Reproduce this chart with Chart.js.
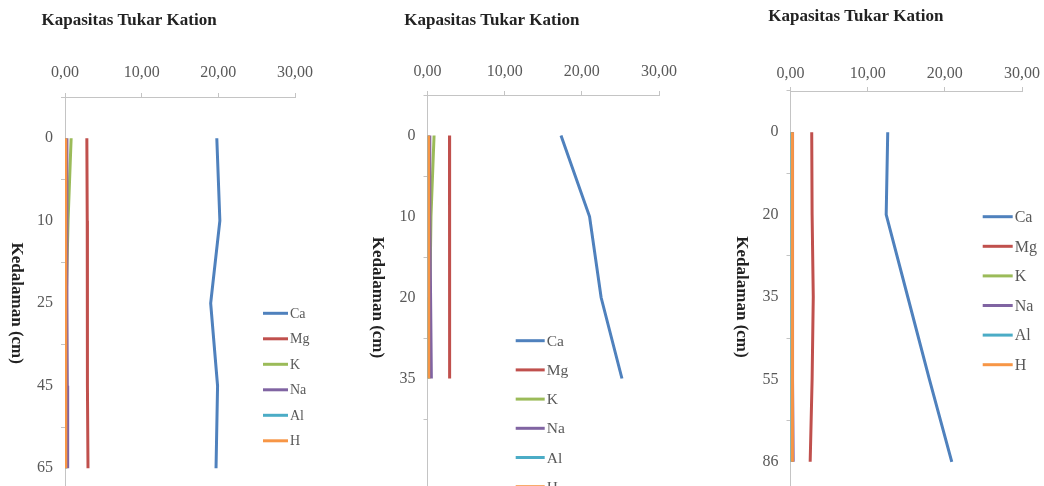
<!DOCTYPE html>
<html>
<head>
<meta charset="utf-8">
<title>Kapasitas Tukar Kation</title>
<script src="https://cdn.jsdelivr.net/npm/chart.js@4.4.1/dist/chart.umd.min.js"></script>
<style>
  html, body { margin: 0; padding: 0; background: #fff; width: 1044px; height: 486px; overflow: hidden; }
  canvas { position: absolute; top: 0; }
</style>
</head>
<body>
<canvas id="p1" width="350" height="560" style="left:0px"></canvas>
<canvas id="p2" width="350" height="560" style="left:350px"></canvas>
<canvas id="p3" width="344" height="560" style="left:700px"></canvas>
<script>
// ---- data ----
const chartTitle = 'Kapasitas Tukar Kation';
const yAxisTitle = 'Kedalaman (cm)';
const seriesNames = ['Ca', 'Mg', 'K', 'Na', 'Al', 'H'];
const xTicks = [0, 10, 20, 30];

// profile 1
const depth1 = ['0', '10', '25', '45', '65'];
const ca1 = [19.8, 20.2, 19.0, 19.9, 19.7];
const mg1 = [2.85, 2.9, 2.9, 2.95, 3.0];
const k1  = [0.8, 0.4, 0.15, 0.15, 0.15];
const na1 = [0.25, 0.25, 0.25, 0.3, 0.35];
const al1 = [0.05, 0.05, 0.05, 0.05, 0.05];
const h1  = [0.1, 0.1, 0.1, 0.1, 0.1];

// profile 2
const depth2 = ['0', '10', '20', '35', ''];
const ca2 = [17.3, 21.0, 22.5, 25.2, null];
const mg2 = [2.85, 2.85, 2.85, 2.9, null];
const k2  = [0.85, 0.45, 0.3, 0.2, null];
const na2 = [0.3, 0.3, 0.4, 0.5, null];
const al2 = [0.05, 0.05, 0.05, 0.05, null];
const h2  = [0.15, 0.15, 0.15, 0.15, null];

// profile 3
const depth3 = ['0', '20', '35', '55', '86'];
const ca3 = [12.6, 12.4, 15.2, 18.0, 20.9];
const mg3 = [2.75, 2.8, 2.95, 2.8, 2.55];
const k3  = [0.2, 0.2, 0.2, 0.2, 0.2];
const na3 = [0.25, 0.25, 0.25, 0.3, 0.35];
const al3 = [0.05, 0.05, 0.05, 0.05, 0.05];
const h3  = [0.25, 0.25, 0.25, 0.25, 0.25];

// ---- styling ----
const seriesColors = ['#4F81BD', '#C0504D', '#9BBB59', '#8064A2', '#4BACC6', '#F79646'];
const SERIF = '"Liberation Serif", "Times New Roman", serif';
const axisGrey = '#C4C4C4';
const labelGrey = '#595959';
const titleInk = '#222222';

const fmt = v => Number(v).toFixed(2).replace('.', ',');

// title, rotated axis title and legend drawn onto each panel
const decor = {
  id: 'decor',
  afterDraw(chart, args, o) {
    const ctx = chart.ctx;
    const a = chart.chartArea;
    ctx.save();
    ctx.fillStyle = titleInk;
    ctx.font = 'bold 17px ' + SERIF;
    ctx.textAlign = 'left';
    ctx.textBaseline = 'alphabetic';
    ctx.fillText(chartTitle, o.titleX, o.titleY);

    ctx.save();
    ctx.translate(o.yTitleX, (a.top + a.bottom) / 2);
    ctx.rotate(Math.PI / 2);
    ctx.textAlign = 'center';
    ctx.textBaseline = 'middle';
    ctx.fillText(yAxisTitle, 0, 0);
    ctx.restore();

    ctx.font = o.legFont + 'px ' + SERIF;
    ctx.textAlign = 'left';
    ctx.textBaseline = 'middle';
    chart.data.datasets.forEach((ds, i) => {
      const y = o.legY + i * o.legGap;
      ctx.strokeStyle = ds.borderColor;
      ctx.lineWidth = 3;
      ctx.beginPath();
      ctx.moveTo(o.legX, y);
      ctx.lineTo(o.legX + o.legLen, y);
      ctx.stroke();
      ctx.fillStyle = labelGrey;
      ctx.fillText(ds.label, o.legX + o.legLen + 2, y + 1);
    });
    ctx.restore();
  }
};

function makePanel(id, depths, values, geo) {
  const canvas = document.getElementById(id);
  const datasets = seriesNames.map((name, i) => ({
    label: name,
    data: values[i],
    borderColor: seriesColors[i],
    backgroundColor: seriesColors[i],
    borderWidth: 3,
    pointRadius: 0,
    tension: 0,
    order: seriesNames.length - 1 - i
  }));
  new Chart(canvas, {
    type: 'line',
    data: { labels: depths, datasets },
    options: {
      indexAxis: 'y',
      responsive: false,
      animation: false,
      devicePixelRatio: 1,
      layout: {
        padding: { left: 0, top: 0, right: canvas.width - geo.right, bottom: canvas.height - geo.bottom }
      },
      plugins: {
        legend: { display: false },
        tooltip: { enabled: false },
        title: { display: false },
        decor: geo
      },
      scales: {
        x: {
          type: 'linear',
          position: 'top',
          min: 0,
          max: 30,
          afterBuildTicks: s => { s.ticks = xTicks.map(v => ({ value: v })); },
          afterFit: s => { s.height = geo.top; },
          ticks: {
            callback: v => fmt(v),
            font: { family: SERIF, size: 16 },
            color: labelGrey,
            padding: geo.xPad,
            maxRotation: 0
          },
          grid: { drawOnChartArea: false, drawTicks: true, tickLength: 4, color: axisGrey },
          border: { color: axisGrey, width: 1 }
        },
        y: {
          type: 'category',
          offset: true,
          afterFit: s => { s.width = geo.left; },
          ticks: {
            font: { family: SERIF, size: 16 },
            color: labelGrey,
            padding: 8
          },
          grid: { offset: true, drawOnChartArea: false, drawTicks: true, tickLength: 4, color: axisGrey },
          border: { color: axisGrey, width: 1 }
        }
      }
    },
    plugins: [decor]
  });
}

makePanel('p1', depth1, [ca1, mg1, k1, na1, al1, h1], {
  left: 65, right: 295, top: 97, bottom: 509.5, xPad: 11,
  titleX: 41.5, titleY: 25, yTitleX: 16,
  legX: 263, legLen: 25, legY: 313.3, legGap: 25.5, legFont: 14
});
makePanel('p2', depth2, [ca2, mg2, k2, na2, al2, h2], {
  left: 77.5, right: 309, top: 95, bottom: 500, xPad: 10,
  titleX: 54.3, titleY: 24.5, yTitleX: 27.5,
  legX: 165.7, legLen: 29, legY: 340.7, legGap: 29.2, legFont: 15.5
});
makePanel('p3', depth3, [ca3, mg3, k3, na3, al3, h3], {
  left: 90.5, right: 323, top: 91, bottom: 503, xPad: 4,
  titleX: 68.3, titleY: 20.5, yTitleX: 41,
  legX: 282.7, legLen: 30, legY: 216.7, legGap: 29.6, legFont: 16
});
</script>
</body>
</html>
